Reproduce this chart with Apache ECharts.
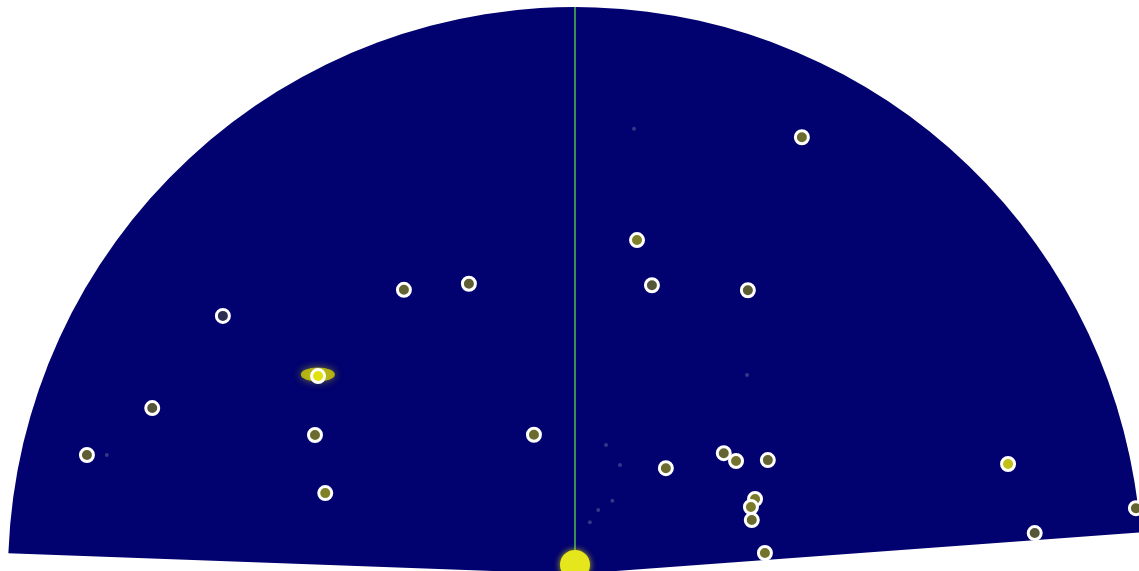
<!DOCTYPE html>
<html>
<head>
<meta charset="utf-8">
<style>
html,body{margin:0;padding:0;background:#fff;}
#chart{width:1139px;height:571px;}
</style>
<script src="https://cdn.jsdelivr.net/npm/echarts@6/dist/echarts.min.js"></script>
</head>
<body>
<div id="chart"></div>
<script>
// Sonar sector extent: [max range, start bearing (deg), end bearing (deg)]
const sectorRange = 100;
const sectorStartAngle = 4.2;
const sectorEndAngle = 177.9;

// Detected targets: [range, bearing (deg, 0 = right, counter-clockwise), intensity 0..1]
const targetRanges   = [86.8, 59.9, 52.7, 58.6, 54.5, 58.5, 77.0, 57.2, 80.1, 52.0, 25.6, 88.6, 46.3, 24.6, 33.8, 34.7, 39.5, 34.4, 33.2, 32.6, 33.7, 78.8, 81.4, 99.6];
const targetBearings = [62.55, 79.48, 75.08, 58.65, 110.08, 121.05, 143.76, 142.39, 158.57, 151.87, 106.43, 166.30, 162.05, 49.35, 39.08, 35.06, 30.57, 22.62, 20.84, 16.97, 6.31, 14.25, 5.09, 6.69];
const targetIntensity = [0.5, 0.62, 0.35, 0.4, 0.42, 0.45, 0.12, 1.0, 0.35, 0.5, 0.5, 0.42, 0.62, 0.5, 0.45, 0.55, 0.45, 0.6, 0.6, 0.5, 0.55, 0.85, 0.35, 0.45];

// Faint background echoes: [range, bearing]
const noiseRanges   = [79.2, 46.4, 23.4, 20.8, 85.2, 12.0, 9.5, 14.5];
const noiseBearings = [82.45, 49.16, 76.49, 67.57, 165.73, 70.0, 74.0, 63.0];

// Strong echo halos around targets: [range, bearing]
const haloRanges   = [57.4, 1.6];
const haloBearings = [142.2, 90];

// Heading marker line: [range, bearing]
const headingLine = [[0, 90], [100, 90]];

const targets = targetRanges.map((r, i) => [r, targetBearings[i], targetIntensity[i]]);
const noise = noiseRanges.map((r, i) => [r, noiseBearings[i]]);

const chart = echarts.init(document.getElementById('chart'), null, {renderer: 'canvas'});
chart.setOption({
  animation: false,
  backgroundColor: '#ffffff',
  polar: { center: [575, 574], radius: 567 },
  angleAxis: {
    type: 'value', min: 0, max: 360, startAngle: 0, clockwise: false,
    axisLine: {show: false}, axisTick: {show: false}, axisLabel: {show: false}, splitLine: {show: false}
  },
  radiusAxis: {
    type: 'value', min: 0, max: sectorRange,
    axisLine: {show: false}, axisTick: {show: false}, axisLabel: {show: false}, splitLine: {show: false}
  },
  visualMap: {
    show: false, seriesIndex: 5, dimension: 2, min: 0, max: 1,
    inRange: { color: ['#16165e', '#3e3e48', '#5c5c34', '#7a7a2a', '#b4b41a', '#e2e20a'] }
  },
  series: [
    {
      type: 'custom', coordinateSystem: 'polar', z: 1, silent: true,
      data: [[sectorRange, sectorStartAngle, sectorEndAngle]],
      renderItem: function (params, api) {
        const c = api.coord([0, 0]);
        const p = api.coord([api.value(0), 90]);
        const r = Math.hypot(p[0] - c[0], p[1] - c[1]);
        return {
          type: 'sector',
          shape: {
            cx: c[0], cy: c[1], r0: 0, r: r,
            startAngle: -api.value(2) * Math.PI / 180,
            endAngle: -api.value(1) * Math.PI / 180,
            clockwise: true
          },
          style: { fill: '#01016f' }
        };
      }
    },
    {
      type: 'scatter', coordinateSystem: 'polar', z: 2, silent: true,
      data: noise, symbolSize: 4,
      itemStyle: { color: 'rgba(90,90,150,0.6)', opacity: 1 }
    },
    {
      type: 'line', coordinateSystem: 'polar', z: 3, silent: true,
      data: headingLine, symbol: 'none',
      lineStyle: { color: '#3c8c55', width: 2 }
    },
    {
      type: 'scatter', coordinateSystem: 'polar', z: 4, silent: true,
      data: [[haloRanges[0], haloBearings[0]]], symbolSize: [34, 14],
      itemStyle: { color: 'rgba(200,200,10,0.85)', opacity: 1, shadowBlur: 8, shadowColor: 'rgba(220,220,0,0.6)' }
    },
    {
      type: 'scatter', coordinateSystem: 'polar', z: 4, silent: true,
      data: [[haloRanges[1], haloBearings[1]]], symbolSize: 30,
      itemStyle: { color: '#e6e61c', opacity: 1, shadowBlur: 6, shadowColor: 'rgba(230,230,0,0.8)' }
    },
    {
      type: 'scatter', coordinateSystem: 'polar', z: 5,
      data: targets, symbol: 'circle', symbolSize: 13,
      itemStyle: { borderColor: '#ffffff', borderWidth: 3, opacity: 1 }
    }
  ]
});
</script>
</body>
</html>
